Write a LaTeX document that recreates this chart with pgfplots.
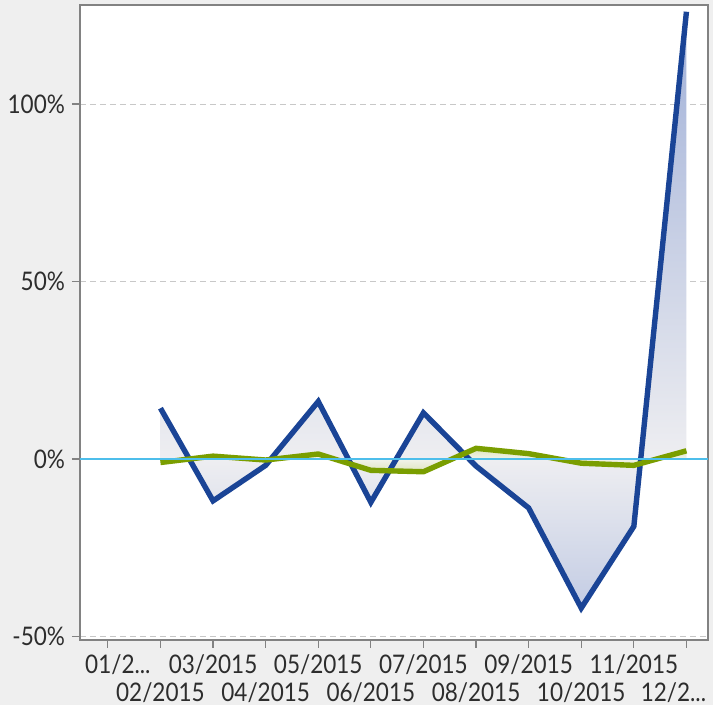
\documentclass[border=0pt]{standalone}
\usepackage{pgfplots}
\pgfplotsset{compat=1.18}
\usepackage{fontspec}
\setmainfont{Lato}[FakeStretch=0.88]
\definecolor{bg}{RGB}{239,239,239}
\definecolor{lblue}{RGB}{26,68,150}
\definecolor{lgreen}{RGB}{122,158,0}
\definecolor{zeroc}{RGB}{77,190,235}
\definecolor{framec}{RGB}{130,130,130}
\definecolor{gridc}{RGB}{200,200,200}
\definecolor{labc}{RGB}{45,45,45}
\definecolor{sA}{RGB}{195,204,228}
\definecolor{sB}{RGB}{238,238,241}
\definecolor{sC}{RGB}{160,176,216}
\definecolor{gA}{RGB}{222,228,190}
\definecolor{gB}{RGB}{242,243,234}
\pgfdeclareverticalshading{blueshade}{100bp}{color(0bp)=(sA); color(25bp)=(sA); color(37.5bp)=(sB); color(75bp)=(sC); color(100bp)=(sC)}
\pgfdeclareverticalshading{greenshade}{100bp}{color(0bp)=(gA); color(25bp)=(gA); color(52.3bp)=(gB); color(75bp)=(gA); color(100bp)=(gA)}
\newcommand{\dotz}{{.}{.}{.}}
\begin{document}
\begin{tikzpicture}
\path[fill=bg, use as bounding box] (0,0) rectangle (356.5pt,352.5pt);
\begin{axis}[
  at={(40pt,32.5pt)}, anchor=south west,
  width=314pt, height=317.5pt, scale only axis,
  xmin=-0.53, xmax=11.41, ymin=-51, ymax=127.9,
  axis background/.style={fill=white},
  axis line style={framec, line width=0.75pt},
  tick align=outside, major tick length=4pt,
  xtick pos=bottom, ytick pos=left,
  tick style={framec, line width=0.6pt},
  ytick={-50,0,50,100},
  yticklabels={-50\%,0\%,50\%,100\%},
  ymajorgrids, grid style={gridc, dash pattern=on 3pt off 2pt, line width=0.5pt},
  xtick={0,2,4,6,8,10},
  xticklabels={{\kern10pt 01/2\dotz},{03/2015},{05/2015},{07/2015},{09/2015},{11/2015}},
  extra x ticks={1,3,5,7,9,11},
  extra x tick labels={{02/2015},{04/2015},{06/2015},{08/2015},{10/2015},{12/2\dotz\kern13pt}},
  extra x tick style={xticklabel style={yshift=-14pt}},
  every tick label/.append style={font=\fontsize{12.8}{14}\selectfont, text=labc},
  clip=true,
]
\addplot[draw=none, shading=blueshade] coordinates {
 (1,14.3) (2,-11.8) (3,-1.8) (4,16.2) (5,-12.2) (6,13.0) (7,-2.0) (8,-13.8) (9,-42.0) (10,-19.0) (11,126)
} \closedcycle;
\addplot[draw=none, shading=greenshade] coordinates {
 (1,-1.0) (2,0.8) (3,-0.3) (4,1.4) (5,-3.2) (6,-3.6) (7,3.0) (8,1.5) (9,-1.2) (10,-1.8) (11,2.3)
} \closedcycle;
\addplot[lblue, line width=2.7pt, line join=miter, mark=none] coordinates {
 (1,14.3) (2,-11.8) (3,-1.8) (4,16.2) (5,-12.2) (6,13.0) (7,-2.0) (8,-13.8) (9,-42.0) (10,-19.0) (11,126)
};
\addplot[lgreen, line width=2.7pt, mark=none] coordinates {
 (1,-1.0) (2,0.8) (3,-0.3) (4,1.4) (5,-3.2) (6,-3.6) (7,3.0) (8,1.5) (9,-1.2) (10,-1.8) (11,2.3)
};
\addplot[zeroc, line width=1.25pt, mark=none] coordinates {(-0.53,0) (11.41,0)};
\end{axis}
\end{tikzpicture}
\end{document}
